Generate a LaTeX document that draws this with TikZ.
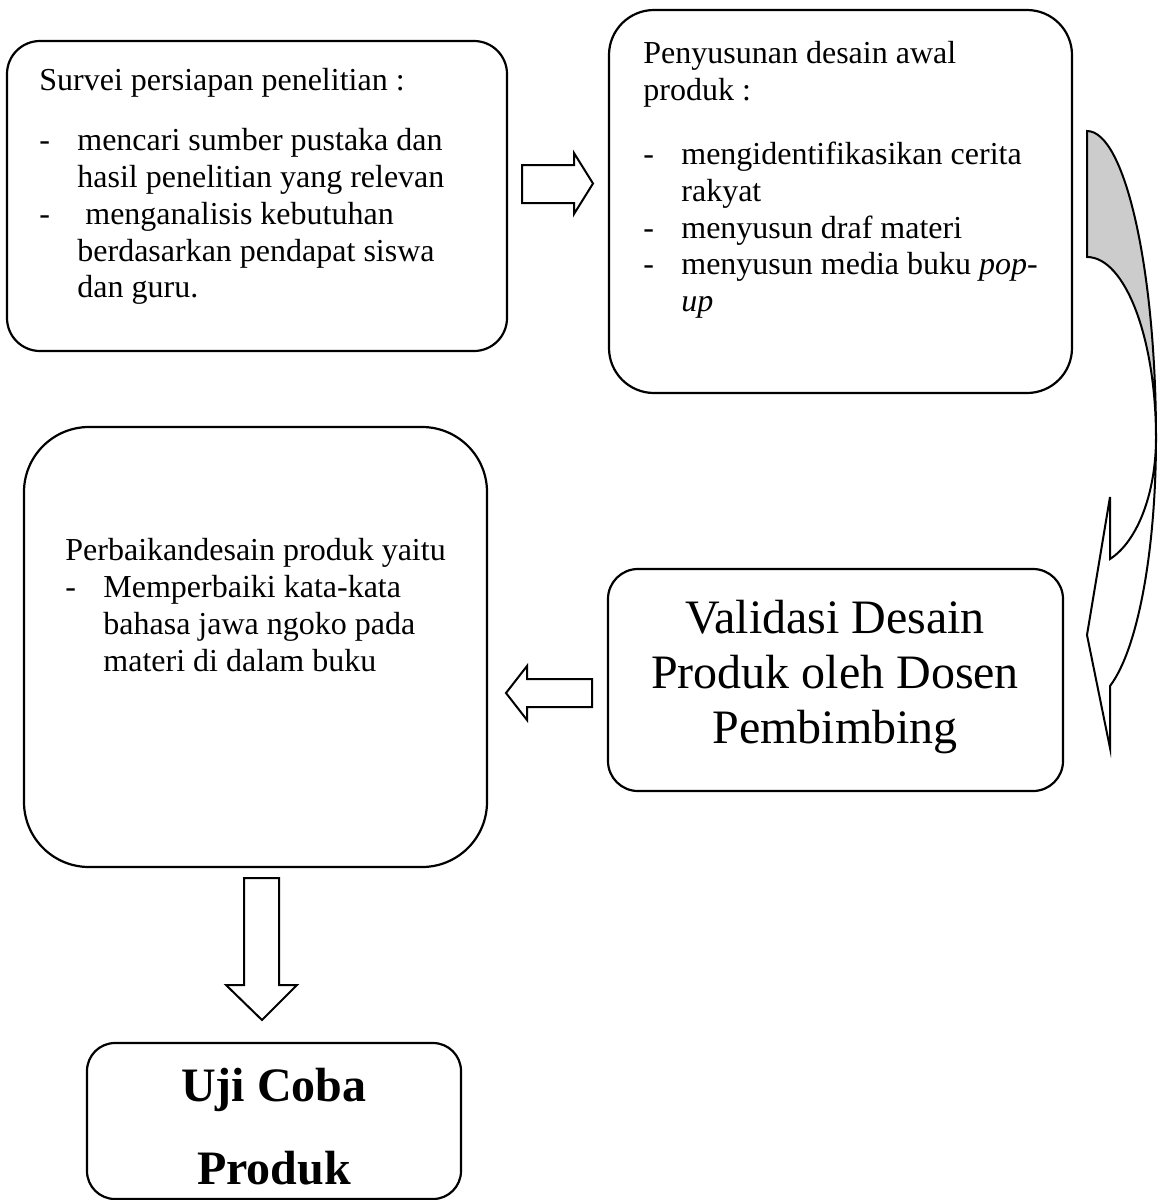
\documentclass[tikz,border=0pt]{standalone}
\usepackage{fontspec}
\setmainfont{Liberation Serif}
\usetikzlibrary{fit}
\definecolor{bandgrey}{gray}{0.8}

\tikzset{
  roundbox/.style={draw, line width=1.1pt, inner sep=0pt},
  boxtext/.style={anchor=north west, inner sep=0pt, align=left,
    font=\fontsize{16}{18.4}\selectfont},
  bigtext/.style={inner sep=0pt, align=center},
  blockarrow/.style={draw, line width=1pt, fill=white},
}
\newcommand{\dashitem}{\makebox[19pt][l]{-}}
\newcommand{\dashgap}{\hspace*{19pt}}

\begin{document}
\begin{tikzpicture}[x=0.5pt, y=-0.5pt]
  \useasboundingbox (0,0) rectangle (1160,1200);

  % rounded boxes
  \node[roundbox, rounded corners=16.5pt, fit={(7,41) (507,351)}] (survei) {};
  \node[roundbox, rounded corners=22.5pt, fit={(609,10) (1072,393)}] (desain) {};
  \node[roundbox, rounded corners=32.5pt, fit={(24,427) (487,867)}] (perbaikan) {};
  \node[roundbox, rounded corners=15pt, fit={(608,569) (1063,791)}] (validasi) {};
  \node[roundbox, rounded corners=14pt, fit={(87,1043) (461,1199)}] (ujicoba) {};

  % texts
  \node[boxtext] (surveitext) at (39,68) {Survei persiapan penelitian :\\[11.6pt]
    \dashitem mencari sumber pustaka dan\\
    \dashgap hasil penelitian yang relevan\\
    \dashitem\ menganalisis kebutuhan\\
    \dashgap berdasarkan pendapat siswa\\
    \dashgap dan guru.};
  \node[boxtext] (desaintext) at (643,41) {Penyusunan desain awal\\
    produk :\\[13.6pt]
    \dashitem mengidentifikasikan cerita\\
    \dashgap rakyat\\
    \dashitem menyusun draf materi\\
    \dashitem menyusun media buku \textit{pop-}\\
    \dashgap\textit{up}};
  \node[boxtext] (perbaikantext) at (65,538) {Perbaikandesain produk yaitu\\
    \dashitem Memperbaiki kata-kata\\
    \dashgap bahasa jawa ngoko pada\\
    \dashgap materi di dalam buku};
  \node[bigtext, font=\fontsize{24}{27.5}\selectfont] (validasitext) at (835,677)
    {Validasi Desain\\Produk oleh Dosen\\Pembimbing};
  \node[bigtext, font=\fontsize{24}{41.5}\selectfont\bfseries] (ujicobatext) at (274,1127)
    {Uji Coba\\Produk};

  % block arrows
  \draw[blockarrow] (522,165) -- (574,165) -- (574,153) -- (593,183.5) -- (574,214)
    -- (574,203) -- (522,203) -- cycle;
  \draw[blockarrow] (592,679) -- (527,679) -- (527,666) -- (506,693) -- (527,720)
    -- (527,707) -- (592,707) -- cycle;
  \draw[blockarrow] (244,878) -- (279,878) -- (279,985) -- (297,985) -- (262,1020)
    -- (226,985) -- (244,985) -- cycle;

  % curved arrow on the right
  \coordinate (bend) at (1156,438);
  \filldraw[fill=bandgrey, line width=1pt] (1087,131) .. controls (1125,131) and (1156,270) .. (bend)
    .. controls (1156,338) and (1125,257) .. (1087,257) -- cycle;
  \filldraw[fill=white, line width=1pt] (bend) .. controls (1156,550) and (1138,649) .. (1110,686)
    -- (1110,748) -- (1087,635) -- (1110,497) -- (1110,559)
    .. controls (1138,541) and (1156,492) .. (bend);
\end{tikzpicture}
\end{document}
